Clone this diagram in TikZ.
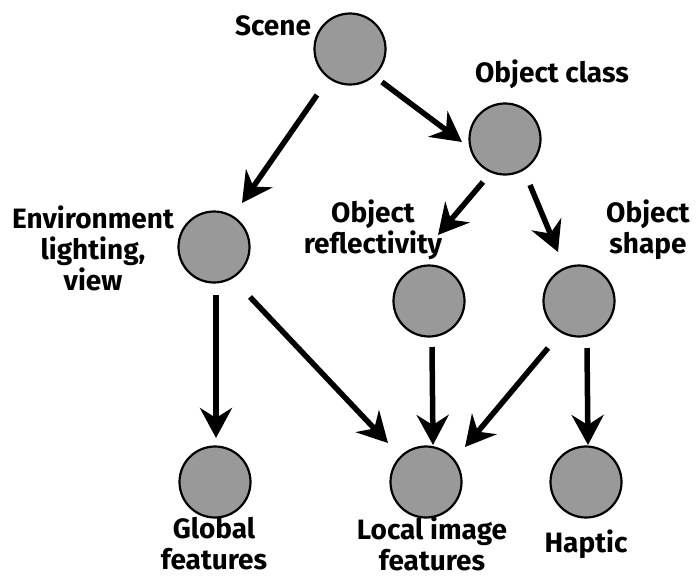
\documentclass[tikz,border=0pt]{standalone}
\usepackage{fontspec}
\setmainfont{Fira Sans}
\usetikzlibrary{arrows.meta,calc}
\tikzset{
  var/.style={circle, draw=black, line width=2.2pt, fill=gray!80!white, minimum size=71pt, inner sep=0pt, outer sep=0pt},
  lbl/.style={align=center, font=\fontsize{28}{31}\selectfont\bfseries, inner sep=0pt},
  edge/.style={line width=5.5pt, -{Stealth[length=30pt, width=32pt, inset=10pt]}},
}
\begin{document}
\begin{tikzpicture}[x=1pt, y=-1pt]
\useasboundingbox (0,0) rectangle (697,579);
\fill[white] (0,0) rectangle (697,579);
% variables
\node[var] (scene) at (350,49) {};
\node[var] (cls) at (505,139) {};
\node[var] (env) at (214,247) {};
\node[var] (refl) at (429,301) {};
\node[var] (shape) at (579,301) {};
\node[var] (glob) at (215,482) {};
\node[var] (loc) at (426,482) {};
\node[var] (hap) at (586,482) {};
% labels
\node[lbl] (tscene) at (273,26) {Scene};
\node[lbl] (tcls) at (552,74) {Object class};
\node[lbl] (tenv) at (93,248) {Environment\\lighting,\\view};
\node[lbl] (trefl) at (373,230) {Object\\reflectivity};
\node[lbl] (tshape) at (648,230) {Object\\shape};
\node[lbl] (tglob) at (214,544) {Global\\features};
\node[lbl] (tloc) at (432,544) {Local image\\features};
\node[lbl] (thap) at (586,544) {Haptic};
% connectors
\draw[edge] ($(scene)+(-33,46)$) -- ($(env)+(28,-44)$);
\draw[edge] ($(scene)+(32,33)$) -- ($(cls)+(-43,3)$);
\draw[edge] ($(cls)+(-22,43)$) -- ($(refl)+(9,-66)$);
\draw[edge] ($(cls)+(25,46)$) -- ($(shape)+(-21,-49)$);
\draw[edge] ($(env)+(2,48)$) -- ($(glob)+(1,-44)$);
\draw[edge] ($(env)+(36,50)$) -- ($(loc)+(-38,-39)$);
\draw[edge] ($(refl)+(3,46)$) -- ($(loc)+(7,-37)$);
\draw[edge] ($(shape)+(-31,47)$) -- ($(loc)+(39,-35)$);
\draw[edge] ($(shape)+(8,47)$) -- ($(hap)+(2,-37)$);
\end{tikzpicture}
\end{document}
